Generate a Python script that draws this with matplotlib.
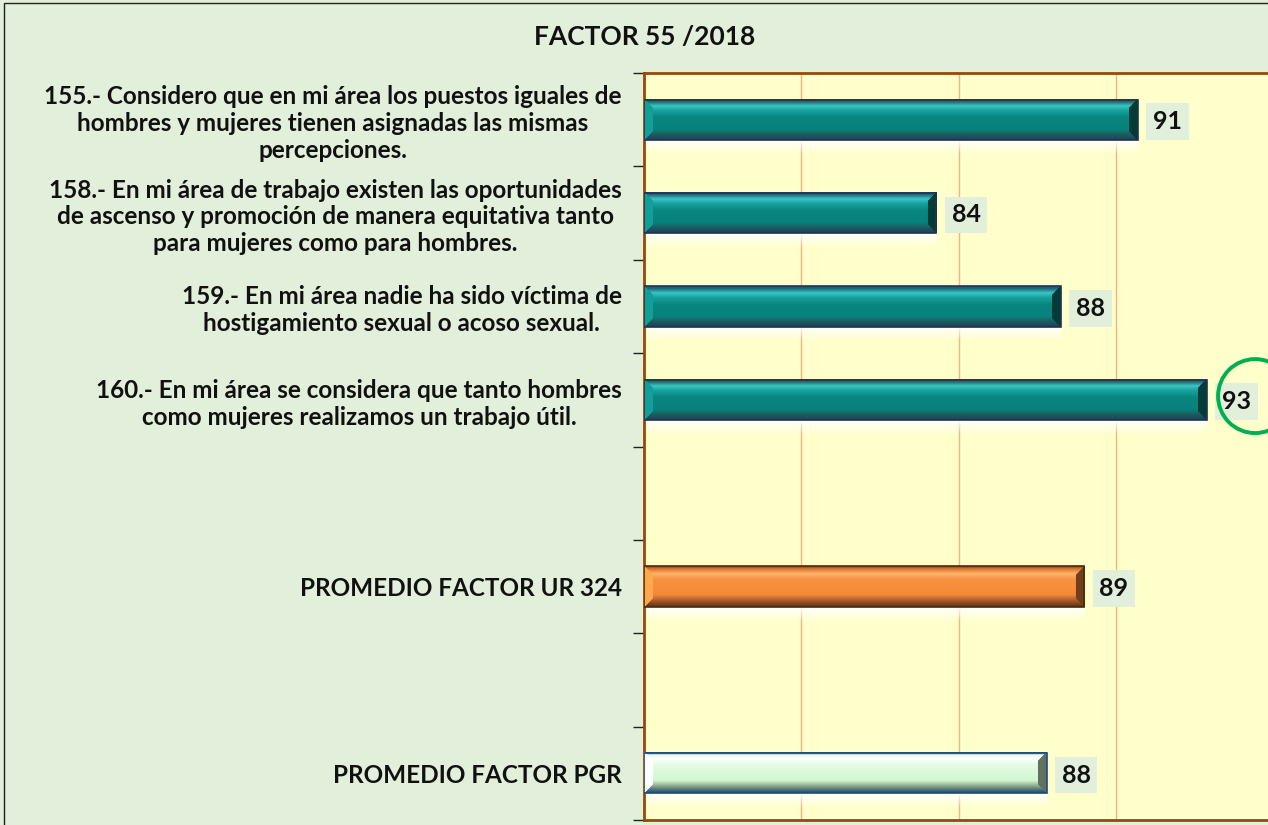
import numpy as np
import matplotlib.pyplot as plt
from matplotlib.colors import to_rgb
from matplotlib.patches import Ellipse, Rectangle

plt.rcParams['font.family'] = ['Lato', 'DejaVu Sans']

# Chart data (blank slots kept as in the original category list)
categories = [
    '155.- Considero que en mi área los puestos iguales de\nhombres y mujeres tienen asignadas las mismas\npercepciones.',
    '158.- En mi área de trabajo existen las oportunidades\nde ascenso y promoción de manera equitativa tanto\npara mujeres como para hombres.',
    '159.- En mi área nadie ha sido víctima de\nhostigamiento sexual o acoso sexual.',
    '160.- En mi área se considera que tanto hombres\ncomo mujeres realizamos un trabajo útil.',
    '',
    'PROMEDIO FACTOR UR 324',
    '',
    'PROMEDIO FACTOR PGR',
]
values = [90.7, 84.3, 88.25, 92.9, np.nan, 89.0, np.nan, 87.8]
kinds = ['item', 'item', 'item', 'item', '', 'ur', '', 'pgr']
title = 'FACTOR 55 /2018'
x_min, x_max = 75, 95

# vertical colour stops (top -> bottom) for the bevelled bars
styles = {
    'item': [(0.0, '#1f4e79'), (0.06, '#1f6f80'), (0.16, '#3cc6c2'), (0.28, '#16a09c'),
             (0.45, '#08867f'), (0.75, '#08827c'), (0.88, '#1d5c5e'), (1.0, '#1f3f5e')],
    'ur': [(0.0, '#8a4a1c'), (0.06, '#d9772f'), (0.18, '#ffb36e'), (0.32, '#f7923f'),
           (0.7, '#f58a38'), (0.86, '#a7582a'), (1.0, '#5a3312')],
    'pgr': [(0.0, '#1f4e79'), (0.06, '#e8fbe8'), (0.16, '#ffffff'), (0.3, '#e3fbe3'),
            (0.7, '#d3f7d3'), (0.86, '#7f9a80'), (1.0, '#1f4e79')],
}
edge = {'item': '#1f3550', 'ur': '#4a2a10', 'pgr': '#1f4e79'}

W, H = 1268, 825
fig = plt.figure(figsize=(W / 100, H / 100), dpi=100)
fig.patch.set_facecolor('#e2efda')
ax = fig.add_axes([644 / W, (H - 820) / H, (1273 - 644) / W, (820 - 73) / H])
ax.set_facecolor('#ffffcc')

ypos = np.arange(len(categories))
bar_h = 0.43
bars = ax.barh(ypos, np.array(values) - x_min, left=x_min, height=bar_h,
               color='none', edgecolor='none', zorder=3)

ax.set_xlim(x_min, x_max)
ax.set_ylim(len(categories) - 0.5, -0.5)
px_x = (1273 - 644) / (x_max - x_min)
px_y = (820 - 73) / len(categories)


def bar_image(stops, w_px, h_px, bevel=9):
    pos = [s[0] for s in stops]
    cols = np.array([to_rgb(s[1]) for s in stops])
    t = np.linspace(0, 1, h_px)
    prof = np.stack([np.interp(t, pos, cols[:, k]) for k in range(3)], axis=1)
    img = np.repeat(prof[:, None, :], w_px, axis=1)
    yy, xx = np.mgrid[0:h_px, 0:w_px]
    dv = np.minimum(yy, h_px - 1 - yy)
    dr = w_px - 1 - xx
    right = (dr < bevel) & (dr <= dv)
    left = (xx < bevel) & (xx <= dv)
    mid = prof[h_px // 2]
    img[right] = mid * 0.45
    img[left] = np.clip(mid * 1.12 + 0.04, 0, 1)
    return np.clip(img, 0, 1)


for bar, v, kind in zip(bars, values, kinds):
    if not kind:
        continue
    x0, w = bar.get_x(), bar.get_width()
    yc = bar.get_y() + bar.get_height() / 2
    w_px = max(int(round(w * px_x)), 2)
    h_px = int(round(bar_h * px_y))
    img = bar_image(styles[kind], w_px, h_px)
    ax.imshow(img, extent=(x0, x0 + w, yc + bar_h / 2, yc - bar_h / 2),
              origin='upper', aspect='auto', interpolation='bilinear', zorder=3)
    ax.add_patch(Rectangle((x0, yc - bar_h / 2), w, bar_h, fill=False,
                           edgecolor=edge[kind], lw=1.2, zorder=4))
    # soft white reflection under the bar
    refl = np.ones((20, 2, 4))
    refl[:, :, 3] = np.linspace(0.95, 0.0, 20)[:, None]
    ax.imshow(refl, extent=(x0, x0 + w, yc + bar_h / 2 + 0.16, yc + bar_h / 2),
              origin='upper', aspect='auto', interpolation='bilinear', zorder=2.5)
    ax.text(v + 0.48, yc + 0.02, f'{v:.0f}', ha='left', va='center', fontsize=18,
            fontweight='bold', color='#111111', zorder=5,
            bbox=dict(boxstyle='square,pad=0.27', facecolor='#e2efda', edgecolor='none'))

ax.set_xlim(x_min, x_max)
ax.set_ylim(len(categories) - 0.5, -0.5)

# grid and axes styling
ax.set_xticks(np.arange(80, x_max, 5))
ax.xaxis.grid(True, color='#f4b183', lw=1)
ax.tick_params(axis='x', length=0, labelbottom=False)
ax.set_axisbelow(True)
ax.set_yticks(ypos)
ax.set_yticklabels(categories, fontsize=17.5, fontweight='bold', color='#111111',
                   multialignment='center', linespacing=1.2)
ax.tick_params(axis='y', length=0, pad=16)
ax.set_yticks(np.arange(-0.5, len(categories)), minor=True)
ax.tick_params(axis='y', which='minor', length=8, width=1, color='#222222', direction='out')
for side in ('left', 'top', 'bottom'):
    ax.spines[side].set_color('#984807')
    ax.spines[side].set_linewidth(2)
ax.spines['right'].set_visible(False)

# highlight circle around the highest value
ax.add_patch(Ellipse((94.43, 2.96), 74 / px_x, 74 / px_y, fill=False,
                     edgecolor='#00b050', lw=2.8, clip_on=False, zorder=6))

fig.text(645 / W, 1 - 37 / H, title, ha='center', va='center', fontsize=19,
         fontweight='bold', color='#111111')
fig.patches.append(Rectangle((4 / W, -0.02), 1.05, 1 - 3 / H + 0.02, transform=fig.transFigure,
                             fill=False, edgecolor='#222222', lw=1))

fig.savefig('out.png', dpi=100, facecolor=fig.get_facecolor())
